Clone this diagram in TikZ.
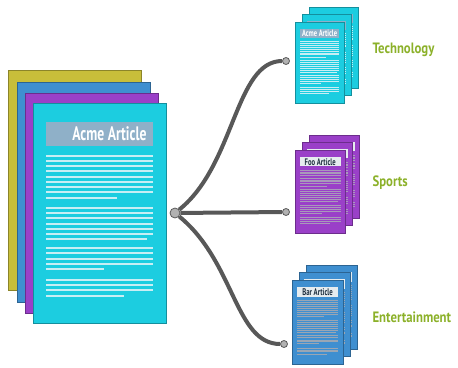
\documentclass[tikz,border=0pt]{standalone}
\usepackage{fontspec}
\newfontfamily\condfont[FakeStretch=0.7]{PT Sans}
\newfontfamily\labelfont[FakeStretch=0.85]{PT Sans}
\definecolor{yellowpage}{HTML}{C8BE3A}
\definecolor{bluepage}{HTML}{3F8FD0}
\definecolor{purplepage}{HTML}{9A40C8}
\definecolor{cyanpage}{HTML}{1CCDE0}
\definecolor{titlebar}{HTML}{8FB0C8}
\definecolor{paperbar}{HTML}{E6ECEF}
\definecolor{inktext}{HTML}{1F3040}
\definecolor{cyanline}{HTML}{C8EEF4}
\definecolor{purpleline}{HTML}{A999BB}
\definecolor{blueline}{HTML}{9AA6B4}
\definecolor{linkgray}{HTML}{585858}
\definecolor{labelgreen}{HTML}{8CB12A}

% one article page, 133 x 220, top left at the origin
\newcommand{\articlepage}[5]{%
  \fill[#1,draw=#1!70!black,line width=0.6pt] (0,0) rectangle (133,220);
  \fill[#2] (13,19) rectangle (120,43);
  \node[#4] (pagetitle) at (66.5,31) {#3};
  \foreach \ly/\le in {53/120,58/120,63/120,68/120,74/120,79/120,84/120,89/120,95/84,
                       105/120,110/120,115/120,121/120,126/120,131/120,136/114,
                       145/120,150/120,156/120,161/120,166/71,
                       177/120,182/120,187/120,193/91}
    \fill[#5] (13,\ly-1.3) rectangle (\le,\ly+1.3);
}

\tikzset{
  link/.style={draw=linkgray,line width=4pt},
  hubdot/.style={circle,fill=black!30,draw=black!65,line width=0.8pt,inner sep=0pt,minimum size=10pt},
  enddot/.style={circle,fill=black!30,draw=black!65,line width=0.8pt,inner sep=0pt,minimum size=7pt},
  topic/.style={anchor=west,text=labelgreen,font=\labelfont\bfseries\fontsize{15}{15}\selectfont},
  bigtitle/.style={text=white,font=\condfont\bfseries\fontsize{19.5}{19.5}\selectfont,xshift=10},
  smalltitle/.style={font=\condfont\bfseries\fontsize{25}{25}\selectfont}
}

\begin{document}
\begin{tikzpicture}[x=1pt,y=-1pt]
\useasboundingbox (0,0) rectangle (458,367);

% big stack
\foreach \px/\py/\c in {8/70/yellowpage,17/82/bluepage,25/93/purplepage}
  \fill[\c,draw=\c!70!black,line width=0.6pt] (\px,\py) rectangle +(133,220);
\begin{scope}[shift={(33,103)}]
  \articlepage{cyanpage}{titlebar}{Acme Article}{bigtitle}{cyanline}
\end{scope}

% small stacks, back pages first
\foreach \dx/\dy in {14/-15,7/-8}{
  \begin{scope}[shift={(295+\dx,22+\dy)},scale=0.37,transform shape]
    \articlepage{cyanpage}{titlebar}{}{smalltitle}{cyanline}
  \end{scope}
  \begin{scope}[shift={(295+\dx,150+\dy)},scale=0.38,transform shape]
    \articlepage{purplepage}{paperbar}{}{smalltitle}{purpleline}
  \end{scope}
  \begin{scope}[shift={(292+\dx,280+\dy)},scale=0.385,transform shape]
    \articlepage{bluepage}{paperbar}{}{smalltitle}{blueline}
  \end{scope}
}
\begin{scope}[shift={(295,22)},scale=0.37,transform shape]
  \articlepage{cyanpage}{titlebar}{Acme Article}{smalltitle,text=white}{cyanline}
\end{scope}
\begin{scope}[shift={(295,150)},scale=0.38,transform shape]
  \articlepage{purplepage}{paperbar}{Foo Article}{smalltitle,text=inktext}{purpleline}
\end{scope}
\begin{scope}[shift={(292,280)},scale=0.385,transform shape]
  \articlepage{bluepage}{paperbar}{Bar Article}{smalltitle,text=inktext}{blueline}
\end{scope}

% hub and ends
\node[hubdot] (hub) at (175,213) {};
\node[enddot] (tech) at (286,61) {};
\node[enddot] (sport) at (286,212) {};
\node[enddot] (ent) at (284,344) {};

\draw[link] (hub) .. controls (235,165) and (235,61) .. (tech);
\draw[link] (hub) -- (sport);
\draw[link] (hub) .. controls (235,262) and (235,344) .. (ent);

% topics
\node[topic] (techlabel) at (369,50) {Technology};
\node[topic] (sportlabel) at (369,183) {Sports};
\node[topic] (entlabel) at (369,317) {Entertainment};
\end{tikzpicture}
\end{document}
